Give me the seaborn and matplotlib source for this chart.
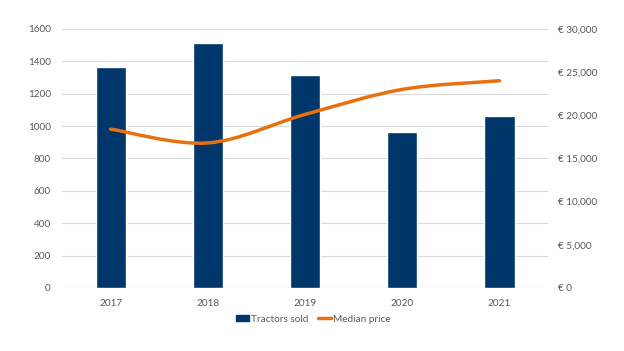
import numpy as np
import pandas as pd
import matplotlib
matplotlib.use("Agg")
import matplotlib.pyplot as plt
from matplotlib.path import Path
from matplotlib.patches import PathPatch, Patch
from matplotlib.lines import Line2D
import matplotlib.ticker as mticker
import seaborn as sns

# ===================== Data =====================
years = ["2017", "2018", "2019", "2020", "2021"]
tractors_sold = [1366, 1514, 1314, 961, 1064]
median_price = [18400, 16800, 20100, 23000, 24000]

navy = "#00376B"
orange = "#E8700E"
grey_text = "#595959"
grid_col = "#D9D9D9"

df = pd.DataFrame({"year": years, "sold": tractors_sold, "price": median_price})

sns.set_theme(style="white")
plt.rcParams["font.family"] = ["Lato", "DejaVu Sans"]

fig = plt.figure(figsize=(6.24, 3.51), dpi=100)
ax = fig.add_axes([0.0994, 0.1795, 0.779, 0.738])

# ===================== Bars =====================
sns.barplot(data=df, x="year", y="sold", color=navy, width=0.31,
            saturation=1, ax=ax, zorder=2)
ax.set_xlim(-0.5, 4.5)
ax.set_ylim(0, 1600)
ax.set_yticks(range(0, 1601, 200))
ax.yaxis.grid(True, color=grid_col, linewidth=0.8, zorder=0)
ax.set_axisbelow(True)
ax.set_xlabel("")
ax.set_ylabel("")
for s in ax.spines.values():
    s.set_visible(False)
ax.axhline(0, color=grid_col, linewidth=0.8, zorder=1)
ax.tick_params(axis="both", length=0, labelsize=7.2, colors=grey_text)
ax.tick_params(axis="y", pad=8)
ax.tick_params(axis="x", pad=8)

# ===================== Smoothed price line =====================
ax2 = ax.twinx()
ax2.set_ylim(0, 30000)
ax2.set_yticks(range(0, 30001, 5000))
ax2.yaxis.set_major_formatter(mticker.FuncFormatter(lambda v, p: "€ {:,}".format(int(v))))
ax2.tick_params(axis="y", length=0, labelsize=7.2, colors=grey_text, pad=7)
for s in ax2.spines.values():
    s.set_visible(False)
ax2.grid(False)

xs = np.arange(len(years), dtype=float)
ys = np.array(median_price, dtype=float)
# draw in display space so the curve looks like the spreadsheet smoothing
pts = ax2.transData.transform(np.column_stack([xs, ys]))
ext = np.vstack([pts[0], pts, pts[-1]])
verts = [pts[0]]
codes = [Path.MOVETO]
for i in range(1, len(ext) - 2):
    p0, p1, p2, p3 = ext[i - 1], ext[i], ext[i + 1], ext[i + 2]
    c1 = p1 + (p2 - p0) / 6.0
    c2 = p2 - (p3 - p1) / 6.0
    verts += [c1, c2, p2]
    codes += [Path.CURVE4] * 3
path = Path(verts, codes)
ax2.add_patch(PathPatch(path, transform=None, facecolor="none", edgecolor=orange,
                        linewidth=2.5, capstyle="round", joinstyle="round", zorder=3))

# ===================== Legend =====================
handles = [Patch(facecolor=navy, edgecolor=navy),
           Line2D([0], [0], color=orange, linewidth=2.5)]
fig.legend(handles, ["Tractors sold", "Median price"], loc="center",
           bbox_to_anchor=(0.502, 0.091), ncol=2, frameon=False, fontsize=7.2,
           labelcolor=grey_text, handlelength=1.3, handleheight=0.45,
           handletextpad=0.15, columnspacing=1.0)

fig.savefig("out.png", dpi=100)
